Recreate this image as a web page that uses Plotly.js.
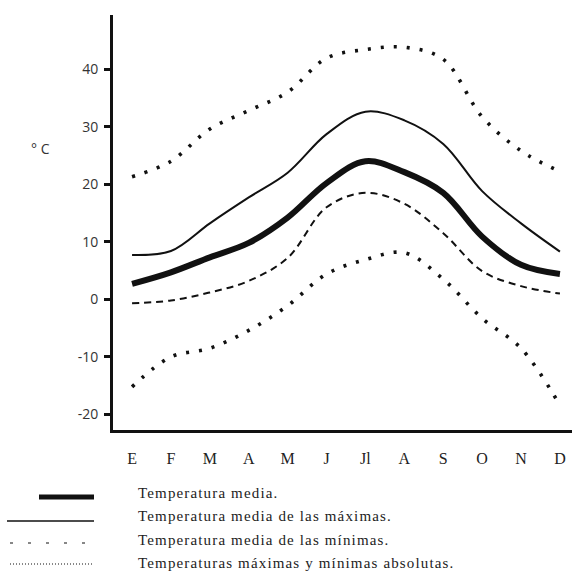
<!DOCTYPE html>
<html><head><meta charset="utf-8">
<script src="https://cdn.plot.ly/plotly-3.0.1.min.js"></script>
<style>html,body{margin:0;padding:0;background:#fff}#chart{width:572px;height:578px}
.annotation-text.leg{letter-spacing:1.15px}</style>
</head><body><div id="chart"></div>
<script>
// Months (Spanish initials)
const months = ['E','F','M','A','M','J','Jl','A','S','O','N','D'];
// Temperatura media
const tMedia = [2.7, 4.7, 7.3, 9.8, 14.2, 20.2, 24.0, 22.1, 18.5, 10.9, 6.0, 4.4];
// Temperatura media de las máximas
const tMaxMedia = [7.7, 8.4, 13.2, 17.7, 22.0, 28.7, 32.6, 31.1, 27.0, 18.8, 13.2, 8.3];
// Temperatura media de las mínimas
const tMinMedia = [-0.7, -0.2, 1.2, 3.2, 7.2, 16.0, 18.5, 16.6, 11.5, 4.9, 2.3, 1.0];
// Temperaturas máximas absolutas
const tMaxAbs = [21.3, 24.0, 29.6, 32.8, 36.0, 41.9, 43.4, 43.8, 41.7, 31.7, 25.8, 22.2];
// Temperaturas mínimas absolutas
const tMinAbs = [-15.2, -10.0, -8.5, -5.4, -1.1, 4.4, 6.9, 8.1, 3.5, -3.3, -8.5, -18.4];
// Y tick labels
const yTickVals = [-20, -10, 0, 10, 20, 30, 40];
const yTickText = ['-20', '-10', '0', '10', '20', '30', '40'];
const yUnit = '° C';
const legendLabels = [
  'Temperatura media.',
  'Temperatura media de las máximas.',
  'Temperatura media de las mínimas.',
  'Temperaturas máximas y mínimas absolutas.'
];

const W = 572, H = 578;
const M = {l: 113, r: 0, t: 15, b: 148};
const pw = W - M.l - M.r, ph = H - M.t - M.b;
const px = x => (x - M.l) / pw;
const py = y => (H - M.b - y) / ph;
const ink = '#111';
const xIdx = months.map((_, i) => i);

const styles = [
  {width: 6, dash: 'solid'},
  {width: 2, dash: 'solid'},
  {width: 2, dash: '7px,5px'},
  {width: 3.6, dash: '3px,10px'}
];

function tr(y, st) {
  return {x: xIdx, y: y, type: 'scatter', mode: 'lines', showlegend: false, hoverinfo: 'skip',
    line: {color: ink, width: st.width, dash: st.dash, shape: 'spline', smoothing: 1}};
}
const data = [
  tr(tMaxAbs, styles[3]),
  tr(tMinAbs, styles[3]),
  tr(tMaxMedia, styles[1]),
  tr(tMinMedia, styles[2]),
  tr(tMedia, styles[0])
];

const legendSym = [
  {x0: 39, x1: 94, y: 497, width: 5, dash: 'solid'},
  {x0: 7, x1: 94, y: 521, width: 1.5, dash: 'solid'},
  {x0: 10, x1: 94, y: 543, width: 1.2, dash: '3px,15px'},
  {x0: 10, x1: 94, y: 564, width: 1, dash: '1px,2px'}
];
const legendTextY = [493, 516, 540, 563];

const shapes = legendSym.map(s => ({type: 'line', xref: 'paper', yref: 'paper',
  x0: px(s.x0), x1: px(s.x1), y0: py(s.y), y1: py(s.y),
  line: {color: ink, width: s.width, dash: s.dash}}));

const annotations = legendLabels.map((t, i) => ({text: t, xref: 'paper', yref: 'paper',
  x: px(136), y: py(legendTextY[i]), xanchor: 'left', yanchor: 'middle', align: 'left', showarrow: false,
  font: {family: 'Liberation Serif', size: 15, color: '#222'}}));
annotations.push({text: yUnit, xref: 'paper', yref: 'paper', x: px(40), y: py(148),
  xanchor: 'center', yanchor: 'middle', showarrow: false,
  font: {family: 'Open Sans', size: 14, color: '#333'}});

const layout = {
  width: W, height: H, margin: M,
  paper_bgcolor: '#fff', plot_bgcolor: '#fff',
  showlegend: false,
  xaxis: {range: [-0.49, 11.31], tickvals: xIdx, ticktext: months, showline: true, linewidth: 3,
    linecolor: ink, ticks: '', showgrid: false, zeroline: false, ticklabelstandoff: 12,
    tickfont: {family: 'Liberation Serif', size: 16, color: '#222'}},
  yaxis: {range: [-22.7, 49.4], tickvals: yTickVals, ticktext: yTickText, showline: true, linewidth: 3,
    linecolor: ink, ticks: 'outside', ticklen: 6, tickwidth: 3, tickcolor: ink, showgrid: false,
    zeroline: false, ticklabelstandoff: 3,
    tickfont: {family: 'Open Sans', size: 14, color: '#333'}},
  shapes: shapes,
  annotations: annotations
};

Plotly.newPlot('chart', data, layout, {displayModeBar: false, staticPlot: true}).then(gd => {
  gd.querySelectorAll('.annotation-text').forEach((el, i) => {
    if (i < legendLabels.length) {
      el.classList.add('leg');
      el.setAttribute('text-anchor', 'start');
    }
  });
});
</script></body></html>
